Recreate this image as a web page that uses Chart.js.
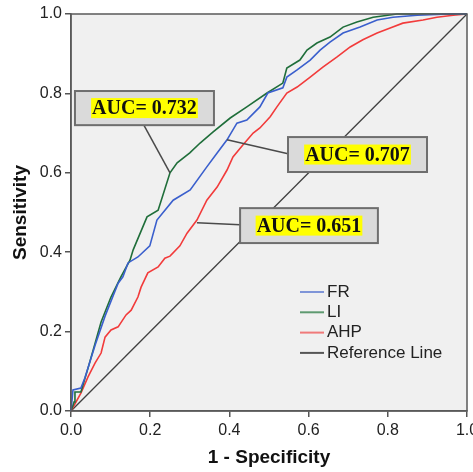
<!DOCTYPE html>
<html lang="en">
<head>
    <meta charset="UTF-8">
    <title>ROC curves</title>
    <script src="https://cdn.jsdelivr.net/npm/chart.js"></script>
    <style>
        body {
            margin: 0;
            padding: 0;
            background-color: white;
        }
        .wrap {
            width: 473px;
            height: 472px;
        }
    </style>
</head>
<body>
    <div class="wrap">
        <canvas id="rocChart" width="473" height="472"></canvas>
    </div>
    <script>
        // values (1 - specificity, sensitivity)
        const frX = [0, 0.005, 0.025, 0.035, 0.061, 0.086, 0.119, 0.131, 0.144, 0.169, 0.199, 0.217, 0.258, 0.301, 0.343, 0.369, 0.394, 0.419, 0.444, 0.477, 0.497, 0.535, 0.545, 0.571, 0.604, 0.629, 0.654, 0.687, 0.730, 0.773, 0.813, 0.874, 0.957, 1];
        const frY = [0, 0.053, 0.058, 0.083, 0.166, 0.239, 0.322, 0.338, 0.373, 0.388, 0.416, 0.481, 0.531, 0.557, 0.615, 0.650, 0.683, 0.725, 0.733, 0.766, 0.801, 0.814, 0.841, 0.859, 0.884, 0.909, 0.929, 0.952, 0.967, 0.985, 0.992, 0.997, 1, 1];

        const liX = [0, 0.008, 0.010, 0.025, 0.043, 0.076, 0.101, 0.126, 0.149, 0.157, 0.192, 0.220, 0.250, 0.268, 0.300, 0.326, 0.359, 0.402, 0.444, 0.495, 0.535, 0.545, 0.578, 0.596, 0.621, 0.654, 0.687, 0.722, 0.763, 0.823, 1];
        const liY = [0, 0.023, 0.048, 0.048, 0.108, 0.224, 0.287, 0.338, 0.380, 0.406, 0.489, 0.506, 0.600, 0.625, 0.650, 0.675, 0.703, 0.738, 0.766, 0.801, 0.826, 0.864, 0.884, 0.909, 0.927, 0.942, 0.967, 0.980, 0.992, 1, 1];

        const ahpX = [0, 0.025, 0.043, 0.061, 0.076, 0.086, 0.101, 0.119, 0.139, 0.152, 0.169, 0.177, 0.194, 0.220, 0.237, 0.250, 0.275, 0.293, 0.318, 0.343, 0.369, 0.394, 0.409, 0.434, 0.460, 0.477, 0.503, 0.520, 0.545, 0.571, 0.604, 0.636, 0.672, 0.705, 0.737, 0.773, 0.806, 0.838, 0.889, 0.924, 0.965, 1];
        const ahpY = [0, 0.045, 0.086, 0.121, 0.146, 0.186, 0.204, 0.212, 0.242, 0.254, 0.287, 0.312, 0.348, 0.363, 0.385, 0.390, 0.416, 0.448, 0.481, 0.531, 0.564, 0.607, 0.640, 0.670, 0.700, 0.713, 0.741, 0.766, 0.801, 0.816, 0.841, 0.866, 0.892, 0.917, 0.935, 0.952, 0.965, 0.977, 0.985, 0.992, 0.997, 1];

        const refX = [0, 1];
        const refY = [0, 1];

        const xTicks = [0, 0.2, 0.4, 0.6, 0.8, 1.0];
        const yTicks = [0, 0.2, 0.4, 0.6, 0.8, 1.0];

        const seriesNames = ['FR', 'LI', 'AHP', 'Reference Line'];
        const seriesColors = ['#3a5fcd', '#1f6e3a', '#f23b3b', '#404040'];
        const legendColors = ['#7f95d8', '#5e9a70', '#f07a7a', '#555555'];

        const aucLabels = ['AUC= 0.732', 'AUC= 0.707', 'AUC= 0.651'];

        function toPoints(xs, ys) {
            return xs.map((x, i) => ({ x: x, y: ys[i] }));
        }

        // annotation boxes, in axis units: box corners and the curve point the leader goes to
        const notes = [
            { text: aucLabels[0], x0: 0.010, x1: 0.361, y0: 0.806, y1: 0.720, from: [0.184, 0.720], to: [0.250, 0.600] },
            { text: aucLabels[1], x0: 0.548, x1: 0.899, y0: 0.690, y1: 0.602, from: [0.548, 0.648], to: [0.394, 0.683] },
            { text: aucLabels[2], x0: 0.427, x1: 0.775, y0: 0.511, y1: 0.423, from: [0.427, 0.469], to: [0.318, 0.474] }
        ];

        const plotBackground = {
            id: 'plotBackground',
            beforeDraw(chart) {
                const { ctx, chartArea: a } = chart;
                ctx.save();
                ctx.fillStyle = '#f0f0f0';
                ctx.fillRect(a.left, a.top, a.right - a.left, a.bottom - a.top);
                ctx.restore();
            },
            afterDatasetsDraw(chart) {
                const { ctx, chartArea: a } = chart;
                const xs = chart.scales.x, ys = chart.scales.y;
                ctx.save();
                ctx.strokeStyle = '#5a5a5a';
                ctx.lineWidth = 1.5;
                ctx.strokeRect(a.left, a.top, a.right - a.left, a.bottom - a.top);

                notes.forEach(n => {
                    // leader line
                    ctx.strokeStyle = '#4a4a4a';
                    ctx.lineWidth = 1.5;
                    ctx.beginPath();
                    ctx.moveTo(xs.getPixelForValue(n.from[0]), ys.getPixelForValue(n.from[1]));
                    ctx.lineTo(xs.getPixelForValue(n.to[0]), ys.getPixelForValue(n.to[1]));
                    ctx.stroke();

                    const l = xs.getPixelForValue(n.x0), r = xs.getPixelForValue(n.x1);
                    const t = ys.getPixelForValue(n.y0), b = ys.getPixelForValue(n.y1);
                    ctx.fillStyle = '#dadada';
                    ctx.fillRect(l, t, r - l, b - t);
                    ctx.strokeStyle = '#6e6e6e';
                    ctx.lineWidth = 2;
                    ctx.strokeRect(l, t, r - l, b - t);

                    ctx.font = 'bold 20px "Liberation Serif", "Times New Roman", serif';
                    const w = ctx.measureText(n.text).width;
                    const cx = (l + r) / 2, cy = (t + b) / 2;
                    ctx.fillStyle = '#ffff00';
                    ctx.fillRect(cx - w / 2 - 1, cy - 10, w + 2, 20);
                    ctx.fillStyle = '#111';
                    ctx.textAlign = 'center';
                    ctx.textBaseline = 'middle';
                    ctx.fillText(n.text, cx, cy + 1);
                });

                // legend
                ctx.font = '17px "Liberation Sans", Arial, sans-serif';
                ctx.textAlign = 'left';
                ctx.textBaseline = 'middle';
                seriesNames.forEach((name, i) => {
                    const y = 292 + i * 20.3;
                    ctx.strokeStyle = legendColors[i];
                    ctx.lineWidth = 2;
                    ctx.beginPath();
                    ctx.moveTo(300, y);
                    ctx.lineTo(324, y);
                    ctx.stroke();
                    ctx.fillStyle = '#222';
                    ctx.fillText(name, 327, y);
                });
                ctx.restore();
            }
        };

        const allX = [frX, liX, ahpX, refX];
        const allY = [frY, liY, ahpY, refY];

        const ctx = document.getElementById('rocChart').getContext('2d');
        const rocChart = new Chart(ctx, {
            type: 'line',
            data: {
                datasets: seriesNames.map((name, i) => ({
                    label: name,
                    data: toPoints(allX[i], allY[i]),
                    borderColor: seriesColors[i],
                    borderWidth: i === 3 ? 1.3 : 1.6,
                    pointRadius: 0,
                    tension: 0,
                    fill: false,
                    clip: 3
                }))
            },
            options: {
                responsive: false,
                animation: false,
                layout: {
                    padding: { left: 0, right: 6, top: 14, bottom: 0 }
                },
                plugins: {
                    legend: { display: false },
                    tooltip: { enabled: false }
                },
                scales: {
                    x: {
                        type: 'linear',
                        min: 0,
                        max: 1,
                        afterFit: (s) => { s.height = 61; s.paddingLeft = 0; s.paddingRight = 0; },
                        afterBuildTicks: (s) => { s.ticks = xTicks.map(v => ({ value: v })); },
                        grid: { drawOnChartArea: false, tickLength: 6, color: '#555', lineWidth: 1.5 },
                        border: { color: '#5a5a5a', width: 1.5 },
                        ticks: {
                            color: '#222',
                            font: { family: '"Liberation Sans", Arial, sans-serif', size: 16 },
                            padding: 4,
                            maxRotation: 0,
                            callback: (v) => Number(v).toFixed(1)
                        },
                        title: {
                            display: true,
                            text: '1 - Specificity',
                            color: '#111',
                            font: { family: '"Liberation Sans", Arial, sans-serif', size: 19, weight: 'bold' },
                            padding: { top: 0, bottom: 3 }
                        }
                    },
                    y: {
                        type: 'linear',
                        min: 0,
                        max: 1,
                        afterFit: (s) => { s.width = 71; s.paddingTop = 0; s.paddingBottom = 0; },
                        afterBuildTicks: (s) => { s.ticks = yTicks.map(v => ({ value: v })); },
                        grid: { drawOnChartArea: false, tickLength: 6, color: '#555', lineWidth: 1.5 },
                        border: { color: '#5a5a5a', width: 1.5 },
                        ticks: {
                            color: '#222',
                            font: { family: '"Liberation Sans", Arial, sans-serif', size: 16 },
                            padding: 3,
                            callback: (v) => Number(v).toFixed(1)
                        },
                        title: {
                            display: true,
                            text: 'Sensitivity',
                            color: '#111',
                            font: { family: '"Liberation Sans", Arial, sans-serif', size: 19, weight: 'bold' },
                            padding: { top: 9, bottom: 0 }
                        }
                    }
                }
            },
            plugins: [plotBackground]
        });
    </script>
</body>
</html>
